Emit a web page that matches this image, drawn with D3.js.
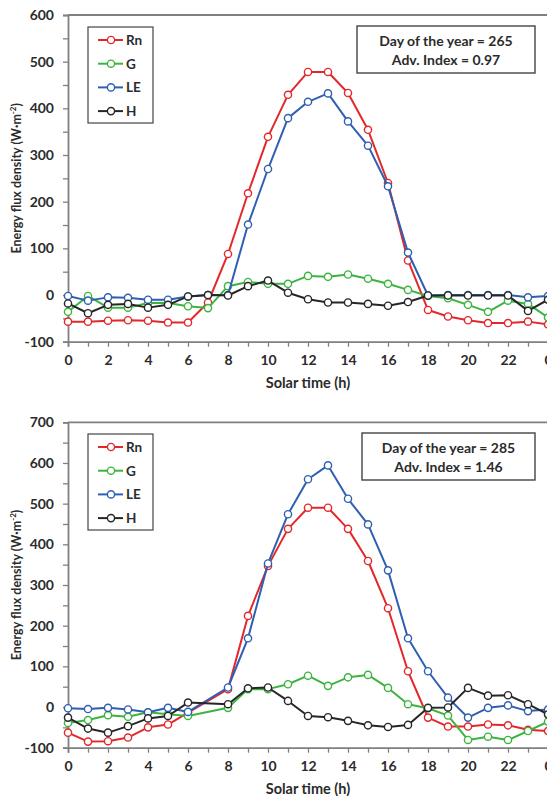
<!DOCTYPE html>
<html>
<head>
<meta charset="utf-8">
<script src="https://cdn.jsdelivr.net/npm/d3@7"></script>
<style>
  html, body { margin: 0; padding: 0; background: #fff; }
  svg { display: block; font-family: Lato, "Open Sans", sans-serif; font-weight: bold; }
</style>
</head>
<body>
<svg id="chart" width="547" height="796"></svg>
<script>
// Solar time (h), hourly, midnight to midnight
const hours = [0,1,2,3,4,5,6,7,8,9,10,11,12,13,14,15,16,17,18,19,20,21,22,23,24];

// Day 265 energy balance components (W·m-2)
const rn265 = [-57,-57,-55,-54,-55,-59,-59,-16,88,218,339,429,478,478,433,354,240,74,-32,-46,-54,-60,-60,-57,-63];
const g265  = [-36,-2,-27,-27,-17,-17,-24,-28,19,28,24,24,41,39,44,35,24,11,-2,-7,-21,-36,-12,-19,-48];
const le265 = [-2,-12,-5,-6,-10,-10,-3,0,0,151,270,379,414,432,372,320,233,91,-1,0,0,0,0,-5,-2];
const h265  = [-18,-39,-21,-19,-27,-21,-3,0,-1,19,31,5,-9,-16,-16,-19,-23,-15,-1,-1,-1,-1,-1,-34,-10];

// Day 285 energy balance components (W·m-2); no record at 7 h
const rn285 = [-63,-85,-84,-75,-50,-43,-14,null,44,224,347,438,490,490,438,359,243,88,-26,-48,-48,-43,-45,-56,-59];
const g285  = [-39,-32,-20,-24,-13,-18,-22,null,-2,44,44,56,77,52,73,79,47,7,-3,-21,-81,-73,-81,-59,-36];
const le285 = [-3,-5,-2,-6,-13,-2,-12,null,48,169,353,474,560,594,512,449,336,169,88,23,-26,-2,4,-10,-6];
const h285  = [-26,-53,-63,-47,-28,-22,11,null,7,46,48,15,-22,-25,-34,-45,-49,-44,-2,-1,47,28,29,7,-18];

const seriesNames = ["Rn", "G", "LE", "H"];
const seriesColors = ["#e3282b", "#3cb43f", "#2f5fb3", "#262626"];

const xTickLabels = ["0","2","4","6","8","10","12","14","16","18","20","22","0"];

const panels = [
  { top: 15,    bottom: 341.7, yMax: 600, yTicks: [-100,0,100,200,300,400,500,600],
    series: [rn265, g265, le265, h265],
    info: ["Day of the year = 265", "Adv. Index = 0.97"],
    legend: { x: 88, y: 27, w: 65, h: 96 },
    box: { x: 357, y: 26, w: 178, h: 47 } },
  { top: 422.3, bottom: 747.7, yMax: 700, yTicks: [-100,0,100,200,300,400,500,600,700],
    series: [rn285, g285, le285, h285],
    info: ["Day of the year = 285", "Adv. Index = 1.46"],
    legend: { x: 88, y: 434, w: 65, h: 96 },
    box: { x: 362, y: 433, w: 173, h: 47 } }
];

const svg = d3.select("#chart");
const axisColor = "#808080";
const textColor = "#2b2b2b";
const x = d3.scaleLinear().domain([0, 24]).range([68, 548]);

panels.forEach(p => {
  const g = svg.append("g");
  const y = d3.scaleLinear().domain([-100, p.yMax]).range([p.bottom, p.top]);

  // top frame line
  g.append("line")
    .attr("x1", x(0)).attr("x2", x(24))
    .attr("y1", y(p.yMax)).attr("y2", y(p.yMax))
    .attr("stroke", axisColor).attr("stroke-width", 1.8);

  // y axis: minor ticks every 50, labels every 100
  const yAxis = d3.axisLeft(y)
    .tickValues(d3.range(-100, p.yMax + 1, 50))
    .tickSize(5)
    .tickPadding(9)
    .tickFormat(d => p.yTicks.includes(d) ? d : "");
  const ya = g.append("g").attr("transform", `translate(${x(0)},0)`).call(yAxis);
  ya.select(".domain").attr("stroke", axisColor).attr("stroke-width", 1.8);
  ya.selectAll(".tick line").attr("stroke", axisColor).attr("stroke-width", 1.3);
  ya.selectAll(".tick text").attr("fill", textColor).attr("font-size", 14)
    .attr("font-family", "Lato, 'Open Sans', sans-serif").attr("font-weight", "bold");

  // x axis: ticks every hour, labels every 2 h
  const xAxis = d3.axisBottom(x)
    .tickValues(hours)
    .tickSize(5)
    .tickPadding(8)
    .tickFormat(d => d % 2 === 0 ? xTickLabels[d / 2] : "");
  const xa = g.append("g").attr("transform", `translate(0,${y(-100)})`).call(xAxis);
  xa.select(".domain").attr("stroke", axisColor).attr("stroke-width", 1.8);
  xa.selectAll(".tick line").attr("stroke", axisColor).attr("stroke-width", 1.3);
  xa.selectAll(".tick text").attr("fill", textColor).attr("font-size", 14)
    .attr("font-family", "Lato, 'Open Sans', sans-serif").attr("font-weight", "bold");

  // axis titles
  g.append("text")
    .attr("x", 308).attr("y", y(-100) + 46)
    .attr("text-anchor", "middle").attr("font-size", 14.5).attr("fill", textColor)
    .text("Solar time (h)");

  const yt = g.append("text")
    .attr("transform", `translate(21,${(p.top + p.bottom) / 2}) rotate(-90)`)
    .attr("text-anchor", "middle").attr("font-size", 12.5).attr("fill", textColor);
  yt.append("tspan").text("Energy flux density (W·m");
  yt.append("tspan").attr("baseline-shift", "super").attr("font-size", 8).text("-2");
  yt.append("tspan").text(")");

  // series lines and markers
  const line = d3.line()
    .x(d => x(d.h)).y(d => y(d.v));

  p.series.forEach((vals, i) => {
    const pts = hours.map((h, k) => ({ h, v: vals[k] }));
    const kept = pts.filter(d => d.v !== null);
    g.append("path")
      .datum(kept)
      .attr("fill", "none")
      .attr("stroke", seriesColors[i])
      .attr("stroke-width", 2)
      .attr("stroke-linejoin", "round")
      .attr("d", line);
    g.selectAll(null)
      .data(kept)
      .join("circle")
      .attr("cx", d => x(d.h)).attr("cy", d => y(d.v))
      .attr("r", 3.6)
      .attr("fill", "#fff")
      .attr("stroke", seriesColors[i])
      .attr("stroke-width", 1.4);
  });

  // legend
  const L = p.legend;
  g.append("rect")
    .attr("x", L.x).attr("y", L.y).attr("width", L.w).attr("height", L.h)
    .attr("fill", "#fff").attr("stroke", "#444").attr("stroke-width", 1.2);
  seriesNames.forEach((name, i) => {
    const cy = L.y + 13 + i * 23.7;
    g.append("line")
      .attr("x1", L.x + 10).attr("x2", L.x + 35)
      .attr("y1", cy).attr("y2", cy)
      .attr("stroke", seriesColors[i]).attr("stroke-width", 2);
    g.append("circle")
      .attr("cx", L.x + 23).attr("cy", cy).attr("r", 3.6)
      .attr("fill", "#fff").attr("stroke", seriesColors[i]).attr("stroke-width", 1.4);
    g.append("text")
      .attr("x", L.x + 38).attr("y", cy + 5)
      .attr("font-size", 13.5).attr("fill", textColor)
      .text(name);
  });

  // info box
  const B = p.box;
  g.append("rect")
    .attr("x", B.x).attr("y", B.y).attr("width", B.w).attr("height", B.h)
    .attr("fill", "#fff").attr("stroke", "#444").attr("stroke-width", 1.4);
  p.info.forEach((t, i) => {
    g.append("text")
      .attr("x", B.x + B.w / 2).attr("y", B.y + 20 + i * 19)
      .attr("text-anchor", "middle").attr("font-size", 14).attr("fill", textColor)
      .text(t);
  });
});
</script>
</body>
</html>
